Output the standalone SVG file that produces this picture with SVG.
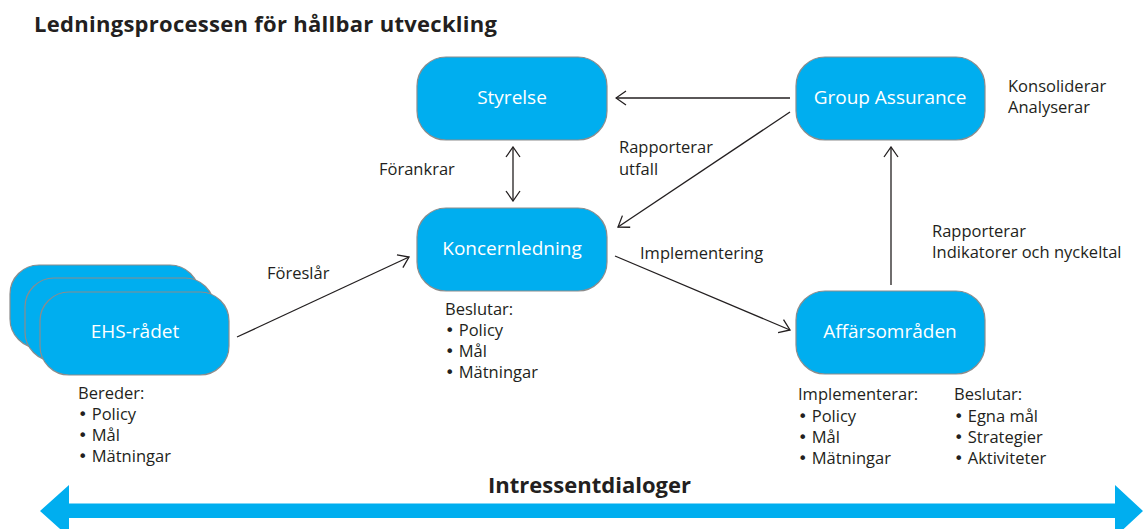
<svg xmlns="http://www.w3.org/2000/svg" width="1143" height="529" viewBox="0 0 1143 529">
<defs>
<style>
.box{fill:#00AEEF;stroke:#8c8c8c;stroke-width:1.2}
.nl{font-family:"Open Sans",Lato,sans-serif;font-size:19px;fill:#ffffff;text-anchor:middle}
.t{font-family:"Open Sans",Lato,sans-serif;font-size:16.5px;fill:#231f20}
.bu{font-family:"DejaVu Sans",sans-serif;font-size:16px}
.b{font-family:"Open Sans",Lato,sans-serif;font-weight:bold;fill:#231f20}
.c{fill:none;stroke:#231f20;stroke-width:1.3}
</style>
<marker id="ah" viewBox="0 0 12 16" refX="11" refY="8" markerWidth="12" markerHeight="16" markerUnits="userSpaceOnUse" orient="auto-start-reverse">
<path d="M1,1 L11,8 L1,15" fill="none" stroke="#231f20" stroke-width="1.3"/>
</marker>
</defs>
<rect width="1143" height="529" fill="#ffffff"/>
<text class="b" x="34" y="32" font-size="22" textLength="463">Ledningsprocessen för hållbar utveckling</text>

<g id="connectors">
<line class="c" x1="790" y1="98" x2="616" y2="98" marker-end="url(#ah)"/>
<line class="c" x1="790" y1="112" x2="618" y2="227" marker-end="url(#ah)"/>
<line class="c" x1="513" y1="147" x2="513" y2="201" marker-start="url(#ah)" marker-end="url(#ah)"/>
<line class="c" x1="891" y1="285" x2="891" y2="147" marker-end="url(#ah)"/>
<line class="c" x1="615" y1="256" x2="790" y2="330" marker-end="url(#ah)"/>
<line class="c" x1="237" y1="337" x2="409" y2="257" marker-end="url(#ah)"/>
</g>

<g id="labels">
<text class="t" x="379" y="175">Förankrar</text>
<text class="t" x="619" y="153">Rapporterar</text>
<text class="t" x="619" y="175">utfall</text>
<text class="t" x="640" y="259">Implementering</text>
<text class="t" x="267" y="279">Föreslår</text>
<text class="t" x="932" y="237">Rapporterar</text>
<text class="t" x="932" y="258">Indikatorer och nyckeltal</text>
<text class="t" x="1008" y="92">Konsoliderar</text>
<text class="t" x="1008" y="113">Analyserar</text>
</g>

<g id="styrelse">
<rect class="box" x="417" y="57" width="190" height="83" rx="29"/>
<text class="nl" x="512" y="104">Styrelse</text>
</g>
<g id="group-assurance">
<rect class="box" x="796" y="57" width="189" height="83" rx="29"/>
<text class="nl" x="890" y="104">Group Assurance</text>
</g>
<g id="koncernledning">
<rect class="box" x="417" y="208" width="190" height="83" rx="29"/>
<text class="nl" x="512" y="255">Koncernledning</text>
<text class="t" x="445" y="315">Beslutar:</text>
<text class="t" x="445" y="336"><tspan class="bu">•</tspan> Policy</text>
<text class="t" x="445" y="357"><tspan class="bu">•</tspan> Mål</text>
<text class="t" x="445" y="378"><tspan class="bu">•</tspan> Mätningar</text>
</g>
<g id="affarsomraden">
<rect class="box" x="796" y="291" width="189" height="83" rx="29"/>
<text class="nl" x="890" y="338">Affärsområden</text>
<text class="t" x="798" y="400">Implementerar:</text>
<text class="t" x="798" y="422"><tspan class="bu">•</tspan> Policy</text>
<text class="t" x="798" y="443"><tspan class="bu">•</tspan> Mål</text>
<text class="t" x="798" y="464"><tspan class="bu">•</tspan> Mätningar</text>
<text class="t" x="954" y="400">Beslutar:</text>
<text class="t" x="954" y="422"><tspan class="bu">•</tspan> Egna mål</text>
<text class="t" x="954" y="443"><tspan class="bu">•</tspan> Strategier</text>
<text class="t" x="954" y="464"><tspan class="bu">•</tspan> Aktiviteter</text>
</g>
<g id="ehs-radet">
<rect class="box" x="10" y="265" width="189" height="83" rx="29"/>
<rect class="box" x="25" y="278" width="189" height="83" rx="29"/>
<rect class="box" x="40" y="292" width="189" height="83" rx="29"/>
<text class="nl" x="135" y="338">EHS-rådet</text>
<text class="t" x="78" y="399">Bereder:</text>
<text class="t" x="78" y="420"><tspan class="bu">•</tspan> Policy</text>
<text class="t" x="78" y="441"><tspan class="bu">•</tspan> Mål</text>
<text class="t" x="78" y="462"><tspan class="bu">•</tspan> Mätningar</text>
</g>

<g id="intressentdialoger">
<polygon fill="#00AEEF" points="40,511 69,485 69,503.5 1115,503.5 1115,485 1143,511 1115,537 1115,518 69,518 69,537"/>
<text class="b" x="488" y="493" font-size="22" textLength="203">Intressentdialoger</text>
</g>
</svg>
